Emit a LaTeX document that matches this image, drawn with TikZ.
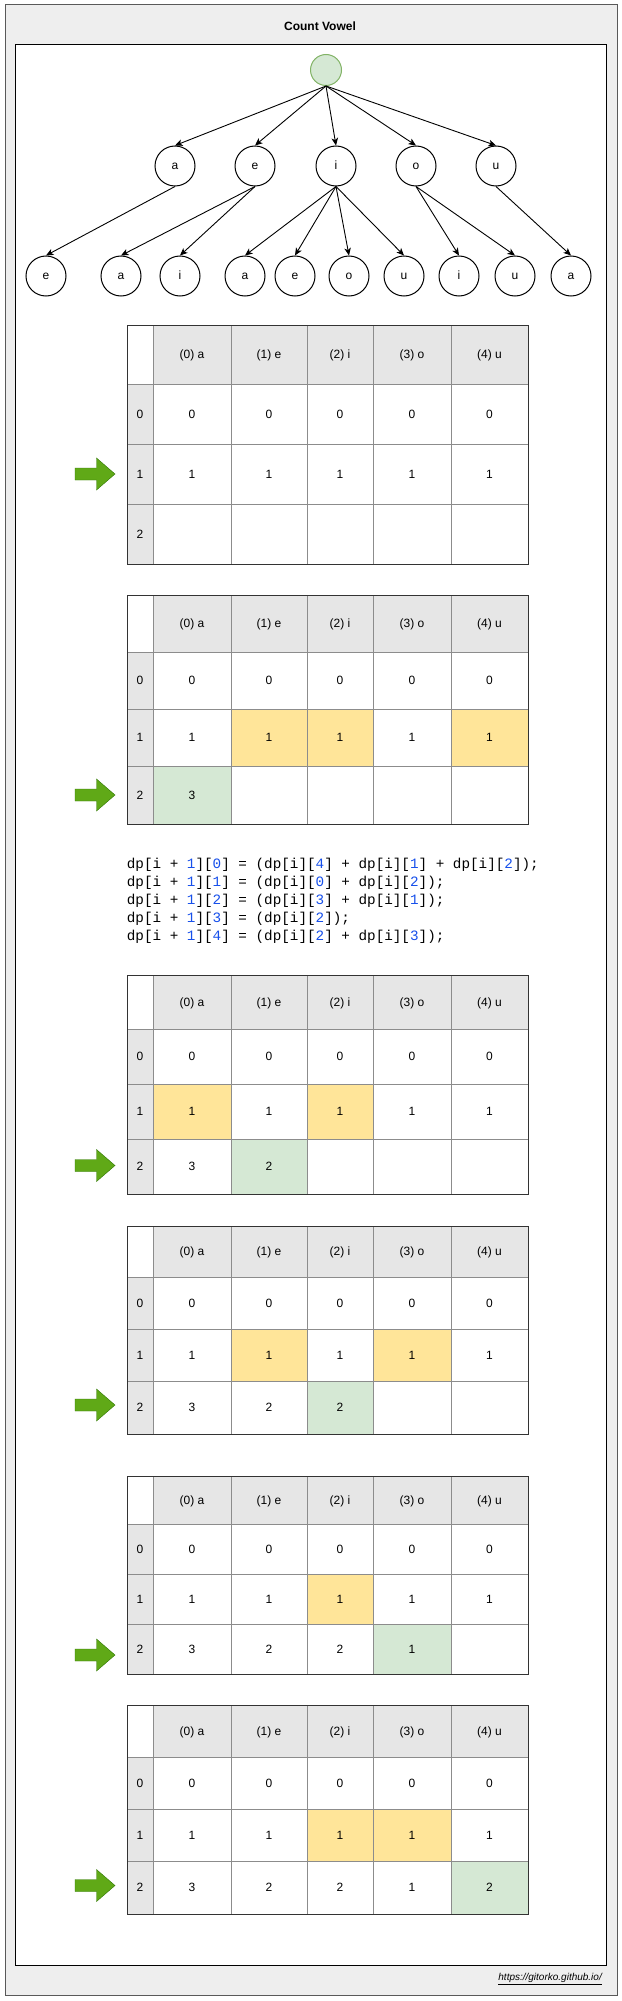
\documentclass[tikz,border=0pt]{standalone}
\usepackage{fontspec}
\setmainfont{Liberation Sans}
\newfontfamily\codefont{Liberation Mono}
\usetikzlibrary{arrows.meta}
\definecolor{hdr}{HTML}{E6E6E6}
\definecolor{yel}{HTML}{FFE599}
\definecolor{grn}{HTML}{D5E8D4}
\definecolor{grnline}{HTML}{82B366}
\definecolor{arrfill}{HTML}{60A917}
\definecolor{arrline}{HTML}{2D7600}
\definecolor{numblue}{HTML}{1750EB}
\definecolor{gridc}{HTML}{8C8C8C}
\definecolor{outerbg}{HTML}{EEEEEE}
\newcommand\bl[1]{\textcolor{numblue}{#1}}
% table helpers
\newcommand\dptable[6]{%
  \def\Tid{#1}\def\Ya{#2}\def\Yb{#3}\def\Yc{#4}\def\Yd{#5}\def\Ye{#6}%
  \fill[white] (127,#2) rectangle (528,#6);
  \fill[hdr] (153,#2) rectangle (528,#3);
  \fill[hdr] (127,#3) rectangle (153,#6);
}
\newcommand\hlA[3]{\fill[#1] (#2,\Yc) rectangle (#3,\Yd);}
\newcommand\hlB[3]{\fill[#1] (#2,\Yd) rectangle (#3,\Ye);}
\newcommand\tablefinish{%
  \foreach \x in {153,231,307,373,451} \draw[gridline] (\x,\Ya) -- (\x,\Ye);
  \foreach \y in {\Yb,\Yc,\Yd} \draw[gridline] (127,\y) -- (528,\y);
  \draw[tborder] (127,\Ya) rectangle (528,\Ye);
  \pgfmathsetmacro\Ha{(\Ya+\Yb)/2}%
  \pgfmathsetmacro\Ra{(\Yb+\Yc)/2}%
  \pgfmathsetmacro\Rb{(\Yc+\Yd)/2}%
  \pgfmathsetmacro\Rc{(\Yd+\Ye)/2}%
  \foreach \cx/\lab [count=\i from 0] in {192/{(0) a},269/{(1) e},340/{(2) i},412/{(3) o},489.5/{(4) u}}
    \node[cell] (\Tid h\i) at (\cx,\Ha) {\lab};
  \node[cell] (\Tid r0) at (140,\Ra) {0};
  \node[cell] (\Tid r1) at (140,\Rb) {1};
  \node[cell] (\Tid r2) at (140,\Rc) {2};
  \foreach \cx [count=\i from 0] in {192,269,340,412,489.5}{
    \node[cell] (\Tid a\i) at (\cx,\Ra) {0};
    \node[cell] (\Tid b\i) at (\cx,\Rb) {1};
  }
}
\newcommand\rowtwo[1]{%
  \foreach \cx/\v [count=\i from 0] in {#1}
    \node[cell] (\Tid c\i) at (\cx,\Rc) {\v};
}
\newcommand\greenarrow[1]{%
  \draw[arrline,fill=arrfill,line join=miter] (75,#1-6) -- (96.5,#1-6) -- (96.5,#1-16) -- (115,#1) -- (96.5,#1+16) -- (96.5,#1+6) -- (75,#1+6) -- cycle;
}
\begin{document}
\begin{tikzpicture}[x=1pt,y=-1pt,
  vnode/.style={circle,draw=black,line width=1pt,minimum size=40pt,inner sep=0pt,
    text height=6.2pt,text depth=0pt,font=\fontsize{12}{14}\selectfont},
  rootnode/.style={circle,draw=grnline,fill=grn,line width=1pt,minimum size=31pt,inner sep=0pt},
  edge/.style={line width=0.9pt,-{Stealth[length=7.5pt,width=6.5pt,inset=2pt]}},
  cell/.style={inner sep=0pt,text height=8.6pt,text depth=0pt,font=\fontsize{12}{14}\selectfont},
  gridline/.style={draw=gridc,line width=1pt},
  tborder/.style={draw=black!80,line width=1pt},
  codeline/.style={anchor=base west,inner sep=0pt,font=\codefont\fontsize{14.3}{18}\selectfont}
]
\useasboundingbox (0,0) rectangle (621,2001);
% frames
\draw[fill=outerbg,draw=black!65,line width=1pt] (5,5) rectangle (617,1995);
\draw[fill=white,draw=black,line width=1pt] (15,45) rectangle (606,1965);
\node[font=\bfseries\fontsize{12}{14}\selectfont] (title) at (320,26) {Count Vowel};
\node[anchor=east,font=\itshape\fontsize{10}{12}\selectfont,inner sep=0pt] (url) at (602,1979) {\underline{https://gitorko.github.io/}};
% tree
\node[rootnode] (root) at (326,70) {};
\node[vnode] (a1) at (175,166) {a};
\node[vnode] (e1) at (255,166) {e};
\node[vnode] (i1) at (336,166) {i};
\node[vnode] (o1) at (416,166) {o};
\node[vnode] (u1) at (496,166) {u};
\node[vnode] (ae) at (46,276) {e};
\node[vnode] (ea) at (121,276) {a};
\node[vnode] (ei) at (180,276) {i};
\node[vnode] (ia) at (245,276) {a};
\node[vnode] (ie) at (295,276) {e};
\node[vnode] (io) at (349,276) {o};
\node[vnode] (iu) at (404,276) {u};
\node[vnode] (oi) at (459,276) {i};
\node[vnode] (ou) at (515,276) {u};
\node[vnode] (ua) at (571,276) {a};
\foreach \c in {a1,e1,i1,o1,u1} \draw[edge] (root.south) -- (\c.north);
\draw[edge] (a1.south) -- (ae.north);
\draw[edge] (e1.south) -- (ea.north);
\draw[edge] (e1.south) -- (ei.north);
\foreach \c in {ia,ie,io,iu} \draw[edge] (i1.south) -- (\c.north);
\draw[edge] (o1.south) -- (oi.north);
\draw[edge] (o1.south) -- (ou.north);
\draw[edge] (u1.south) -- (ua.north);
% table 1
\dptable{ta}{325}{384}{444}{504}{564}
\tablefinish
\greenarrow{474}
% table 2
\dptable{tb}{595}{652}{709}{766}{824}
\hlA{yel}{231}{307}\hlA{yel}{307}{373}\hlA{yel}{451}{528}
\hlB{grn}{153}{231}
\tablefinish
\rowtwo{192/3}
\greenarrow{795}
% code
\node[codeline] (code1) at (126.7,868.5) {dp[i + \bl{1}][\bl{0}] = (dp[i][\bl{4}] + dp[i][\bl{1}] + dp[i][\bl{2}]);};
\node[codeline] (code2) at (126.7,886.5) {dp[i + \bl{1}][\bl{1}] = (dp[i][\bl{0}] + dp[i][\bl{2}]);};
\node[codeline] (code3) at (126.7,904.5) {dp[i + \bl{1}][\bl{2}] = (dp[i][\bl{3}] + dp[i][\bl{1}]);};
\node[codeline] (code4) at (126.7,922.5) {dp[i + \bl{1}][\bl{3}] = (dp[i][\bl{2}]);};
\node[codeline] (code5) at (126.7,940.5) {dp[i + \bl{1}][\bl{4}] = (dp[i][\bl{2}] + dp[i][\bl{3}]);};
% table 3
\dptable{tc}{975}{1029}{1084}{1139}{1194}
\hlA{yel}{153}{231}\hlA{yel}{307}{373}
\hlB{grn}{231}{307}
\tablefinish
\rowtwo{192/3,269/2}
\greenarrow{1165.5}
% table 4
\dptable{td}{1226}{1277}{1329}{1381}{1434}
\hlA{yel}{231}{307}\hlA{yel}{373}{451}
\hlB{grn}{307}{373}
\tablefinish
\rowtwo{192/3,269/2,340/2}
\greenarrow{1405}
% table 5
\dptable{te}{1476}{1524}{1574}{1624}{1674}
\hlA{yel}{307}{373}
\hlB{grn}{373}{451}
\tablefinish
\rowtwo{192/3,269/2,340/2,412/1}
\greenarrow{1655}
% table 6
\dptable{tf}{1705}{1757}{1809}{1861}{1914}
\hlA{yel}{307}{373}\hlA{yel}{373}{451}
\hlB{grn}{451}{528}
\tablefinish
\rowtwo{192/3,269/2,340/2,412/1,489.5/2}
\greenarrow{1885.5}
\end{tikzpicture}
\end{document}
